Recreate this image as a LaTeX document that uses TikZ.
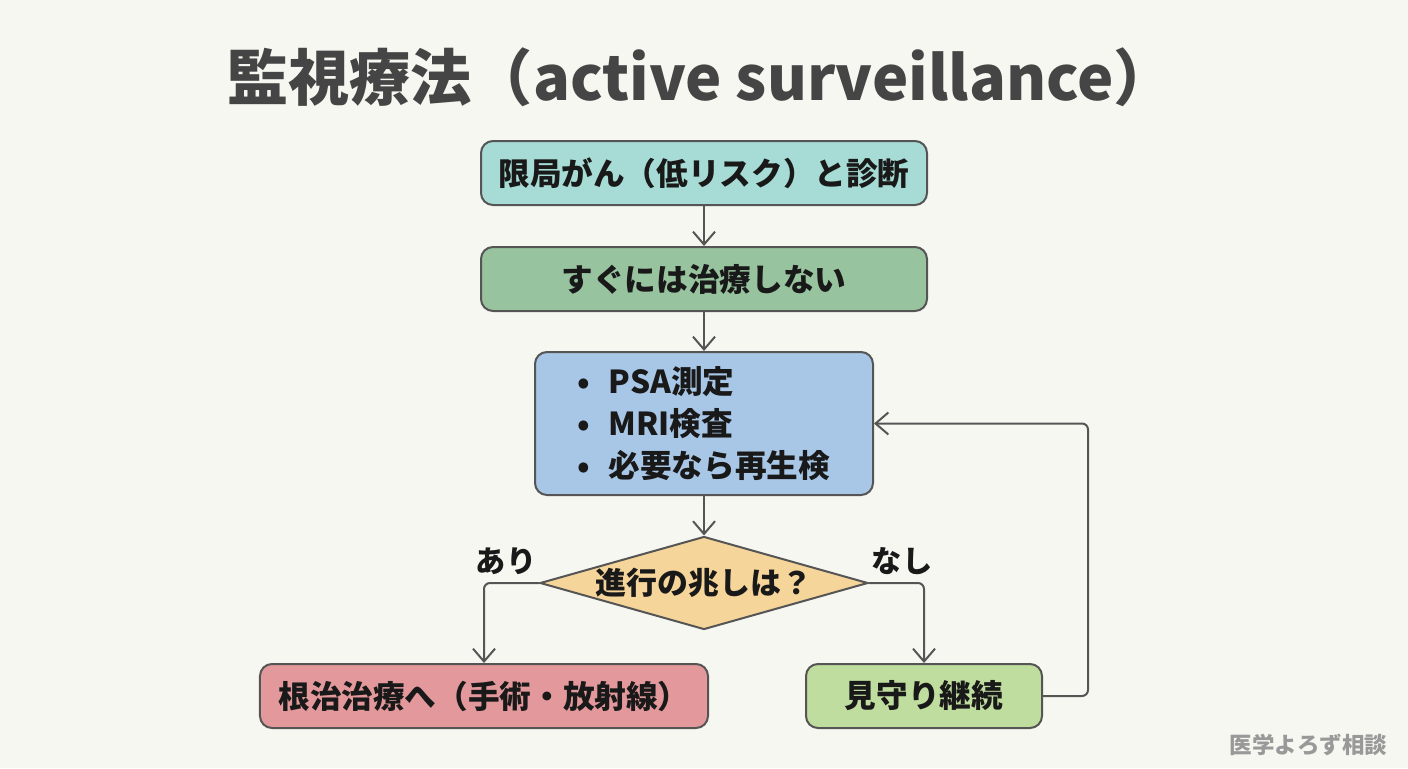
\documentclass[tikz,border=0pt]{standalone}
\usepackage{fontspec}
\setmainfont{Noto Sans CJK JP}
\usetikzlibrary{shapes.geometric,arrows.meta,calc,positioning}

\definecolor{bgcol}{HTML}{F7F7F1}
\definecolor{linecol}{HTML}{555555}
\definecolor{titlecol}{HTML}{454545}
\definecolor{tealcol}{HTML}{A6DCD5}
\definecolor{sagecol}{HTML}{98C39F}
\definecolor{bluecol}{HTML}{A8C7E7}
\definecolor{ambercol}{HTML}{F6D59A}
\definecolor{rosecol}{HTML}{E3999B}
\definecolor{limecol}{HTML}{BFDD9E}

\begin{document}
\begin{tikzpicture}[
    x=0.25mm, y=-0.25mm,
    box/.style  = {draw=linecol, line width=0.5mm, rounded corners=3mm,
                   minimum width=111.5mm, minimum height=16mm,
                   align=center, font=\fontsize{22.5}{30}\selectfont\bfseries,
                   text=black!90},
    decide/.style = {diamond, draw=linecol, line width=0.5mm, fill=ambercol,
                   aspect=3.53, inner sep=0pt,
                   minimum width=82mm, minimum height=23.25mm,
                   font=\fontsize{22}{28}\selectfont\bfseries, text=black!90},
    trans/.style = {draw=linecol, line width=0.5mm, rounded corners=1.5mm,
                   -{Straight Barb[length=3.2mm,width=5.5mm,line width=0.5mm]}},
    lbl/.style   = {font=\fontsize{21.5}{26}\selectfont\bfseries, text=black!90}
  ]
  \fill[bgcol] (0,0) rectangle (1408,768);
  \useasboundingbox (0,0) rectangle (1408,768);

  % title
  \node[font=\fontsize{43.5}{50}\selectfont\bfseries, text=titlecol]
    (title) at (701,77) {監視療法（active surveillance）};

  %–––– grid coordinates ––––
  \coordinate (origin) at (704,173);

  % main column
  \node[box, fill=tealcol] (DX)  at ($(origin)+(0,  0)$) {限局がん（低リスク）と診断};
  \node[box, fill=sagecol] (WAIT) at ($(origin)+(0,106)$) {すぐには治療しない};
  \node[box, fill=bluecol, minimum width=84.5mm, minimum height=35.75mm,
        align=left] (CHK) at ($(origin)+(0,250.5)$)
        {•\hspace{4.5mm}PSA測定\\ •\hspace{4.5mm}MRI検査\\ •\hspace{4.5mm}必要なら再生検};

  % decision
  \node[decide] (Q) at ($(origin)+(0,410)$) {進行の兆しは？};

  % outcomes
  \node[box, fill=rosecol, minimum width=112mm] (CURE) at ($(origin)+(-220,523)$)
        {根治治療へ（手術・放射線）};
  \node[box, fill=limecol, minimum width=59mm]  (KEEP) at ($(origin)+( 220,523)$)
        {見守り継続};

  %–––– flow ––––
  \draw[trans] (DX)   -- (WAIT);
  \draw[trans] (WAIT) -- (CHK);
  \draw[trans] (CHK)  -- (Q);

  \draw[trans] (Q.west) -| (CURE.north);
  \draw[trans] (Q.east) -| (KEEP.north);
  \node[lbl] (yes) at ($(Q.west)+(-33,-22)$) {あり};
  \node[lbl] (no)  at ($(Q.east)+( 33,-22)$) {なし};

  % back to monitoring
  \draw[trans] (KEEP.east) -- ++(45,0) |- (CHK.east);

  % watermark
  \node[anchor=east, font=\fontsize{16}{20}\selectfont\bfseries, text=black!40]
    (mark) at (1392,745) {医学よろず相談};

\end{tikzpicture}
\end{document}
